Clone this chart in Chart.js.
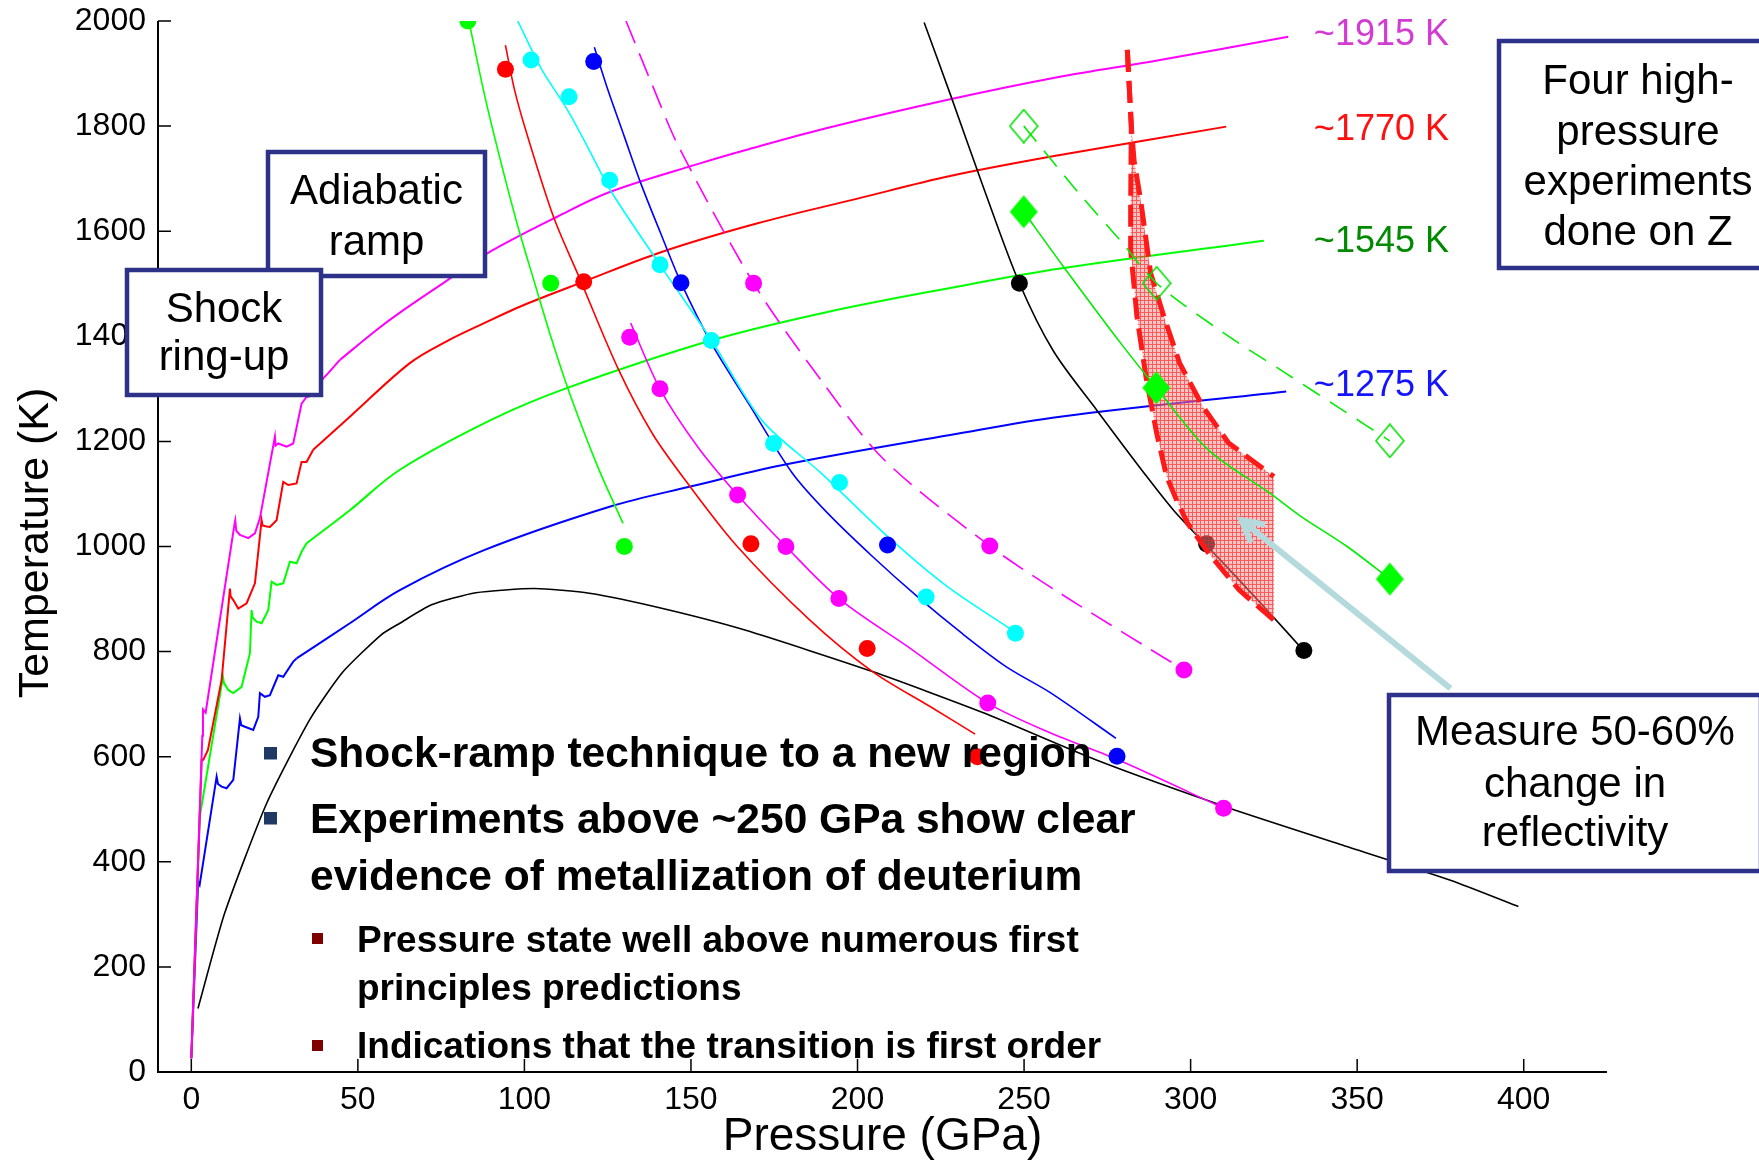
<!DOCTYPE html>
<html><head><meta charset="utf-8">
<script src="https://cdn.jsdelivr.net/npm/chart.js@4.4.1/dist/chart.umd.min.js"></script>
<style>html,body{margin:0;padding:0;background:#fff;overflow:hidden}</style>
</head><body>
<canvas id="c" width="1759" height="1161" style="display:block;width:1759px;height:1161px"></canvas>
<script>
const FONT = '"Liberation Sans", Arial, Helvetica, sans-serif';

// ---- tick labels ----
const xTicks = [0, 50, 100, 150, 200, 250, 300, 350, 400];
const yTicks = [0, 200, 400, 600, 800, 1000, 1200, 1400, 1600, 1800, 2000];

// ---- adiabats (pressure GPa, temperature K), incl. shock ring-up ----
const adiabat1915 = [[0,26],[3.3,640],[3.5,690],[4.3,684],[13.0,1044],[13.2,1050],[13.5,1030],[14.6,1022],[17.1,1016],[19.1,1025],[20.6,1054],[25.1,1209],[25.3,1192],[26.1,1196],[28.6,1190],[30.6,1196],[33.1,1272],[34.5,1284],[36.6,1288],[39.6,1320],[41.1,1330],[44.6,1355],[55.6,1412],[62.6,1445],[76.5,1505],[88.6,1557],[110,1628],[125.8,1675],[152.7,1729],[166.2,1754],[190,1795],[227.8,1851],[260,1893],[290,1925],[329.3,1970]];
const adiabat1770 = [[0,26],[3.1,594],[3.6,594],[5,613],[9.1,746],[11.6,920],[11.8,905],[12.6,898],[14.1,882],[16.6,892],[19.1,930],[21.1,1050],[21.4,1040],[22.6,1038],[23.6,1037],[25.6,1050],[27.6,1123],[29.1,1117],[31.6,1120],[33.1,1161],[34.6,1161],[36.6,1184],[47.6,1247],[65.6,1349],[76.5,1390],[87.9,1425],[100,1460],[117.8,1504],[141,1560],[170,1615],[200,1662],[227.8,1705],[260.8,1745],[310.7,1799]];
const adiabat1545 = [[0,26],[2.55,486],[9.5,752],[9.8,740],[11.1,727],[12.6,721],[15.1,733],[17.6,797],[18.1,879],[18.4,865],[19.6,857],[21.1,854],[23.1,879],[24.1,933],[25.6,927],[27.6,930],[29.6,971],[31.6,968],[33.1,990],[34.6,1006],[47.6,1069],[62.6,1146],[90,1241],[112.5,1301],[156,1392],[190,1445],[227.8,1492],[260.8,1529],[322,1582]];
const adiabat1275 = [[0,26],[2.05,362],[2.5,356],[7.6,562],[8.0,548],[9.1,543],[10.6,540],[12.6,556],[14.6,673],[15.0,660],[16.1,657],[18.6,651],[20.1,676],[20.6,721],[22.1,714],[23.6,717],[26.1,755],[27.6,752],[30.6,781],[31.6,787],[47.6,854],[62.6,917],[87.9,993],[125.8,1076],[149.8,1114],[177.6,1155],[227.8,1212],[260.8,1247],[328.7,1295]];
const lowerBlack = [[2,121],[10,302],[22.6,511],[35.6,671],[45.6,762],[57,832],[62.6,854],[72.1,889],[85.4,912],[103,920],[119.5,911],[141.5,882],[166.2,841],[204.5,762],[238,683],[271.5,594],[311.7,502],[345,433],[378,365],[398.4,315]];

// ---- descending curves (lines) ----
const greenDesc = [[83.5,1995],[88,1860],[93,1730],[98,1610],[103.1,1501],[108,1398],[113.2,1298],[122,1152],[129.6,1044]];
const redDesc = [[94.3,1954],[97,1870],[100.7,1786],[108.7,1628],[116.8,1507],[128.3,1336],[138.4,1215],[148.2,1127],[163.5,1003],[185.7,860],[204.5,762],[221.9,695],[235.3,643]];
const cyanDesc = [[98,2000],[105,1910],[113,1830],[119.5,1754],[125.8,1678],[140.7,1536],[156,1394],[171.3,1240],[189,1140],[208,1025],[226.9,924],[247.1,838]];
const blueDesc = [[121,1950],[125,1870],[130,1780],[135,1690],[140.9,1596],[147,1502],[156.1,1387],[167.5,1270],[180.4,1140],[191.1,1063],[204.5,981],[217.9,905],[231.3,835],[244.7,771],[258.1,721],[277.6,635]];
const magentaDesc = [[131.9,1425],[140.7,1300],[152,1190],[164,1098],[178.5,1000],[194.4,901],[215.2,809],[239.1,702],[258,645],[278.2,594],[309.9,502]];
const magentaDashDesc = [[130.5,2000],[138.2,1881],[146.3,1761],[168.8,1501],[189,1317],[208,1165],[239.7,1001],[260.8,911],[298,765]];
const blackDesc = [[220,1997],[228,1858],[238,1680],[248.6,1501],[258.8,1372],[272,1258],[286,1140],[295,1068],[304.8,1002],[314.6,936],[323.8,873],[333.9,802]];
const greenSolidZ = [[249.9,1637],[261.9,1532],[279,1387],[289.7,1302],[305.3,1184],[323.9,1101],[333.2,1057],[347,1000],[359.8,938]];
const greenDashZ = [[249.9,1800],[266.5,1672],[278.8,1583],[289.8,1501],[310,1406],[328.5,1330],[345.5,1260],[359.8,1201]];

// ---- dots ----
const greenDots = [[83,2000],[107.9,1501],[130,1000]];
const redDots = [[94.3,1908],[117.8,1504],[168,1005],[202.9,806],[236,600]];
const cyanDots = [[102,1926],[113.4,1856],[125.6,1697],[140.7,1536],[156.1,1392],[174.8,1196],[194.6,1122],[220.6,904],[247.4,835]];
const blueDots = [[120.8,1923],[147,1502],[209,1003],[277.9,601]];
const magentaDots = [[131.6,1398],[140.7,1300],[164,1098],[178.5,1000],[194.4,901],[239.1,702],[309.9,502]];
const magentaDashDots = [[168.8,1501],[239.7,1001],[298,765]];
const blackDots = [[248.6,1501],[304.8,1005],[334,802]];
const zFilled = [[249.9,1637],[289.7,1302],[359.8,938]];
const zOpen = [[249.9,1800],[289.8,1501],[359.8,1201]];

// ---- shaded reflectivity-change region ----
const regionLeft = [[281,1945],[282.2,1800],[282,1650],[282,1564],[283.9,1437],[286.6,1323],[289.8,1216],[292.8,1133],[296,1085],[299,1045],[305.3,988],[314.6,917],[325,860]];
const regionRight = [[281,1945],[282.2,1800],[283,1735],[285,1659],[288,1520],[292,1437],[296.7,1349],[303.7,1266],[311.4,1197],[325,1133]];

// ---- arrow (tail, tip) ----
const arrowTail = [378, 730];
const arrowTip = [315.3, 1050];

// ---- labels ----
const adiabatLabels = ['~1915 K', '~1770 K', '~1545 K', '~1275 K'];
const adiabatLabelColors = ['#d23cd2', '#ff1010', '#008a00', '#1414ff'];
const adiabatLabelT = [1954, 1774, 1561, 1286];
const adiabatLabelP = 337;

const toXY = a => a.map(([x, y]) => ({x, y}));
const splitAt = (a, p0) => [a.filter(d => d[0] <= p0), a.filter(d => d[0] >= p0)];

function line(data, color, width, opts = {}) {
  return Object.assign({
    data: toXY(data), showLine: true, borderColor: color, backgroundColor: color,
    borderWidth: width, pointRadius: 0, pointHoverRadius: 0, fill: false, tension: 0,
    order: 40
  }, opts);
}
function dots(data, color, opts = {}) {
  return Object.assign({
    data: toXY(data), showLine: false, pointRadius: 8.5, pointHoverRadius: 8.5,
    pointBackgroundColor: color, pointBorderWidth: 0, pointBorderColor: color,
    backgroundColor: color, borderColor: color, order: 30
  }, opts);
}
function diamond(filled) {
  const c = document.createElement('canvas');
  c.width = 30; c.height = 35;
  const g = c.getContext('2d');
  g.beginPath(); g.moveTo(15, 1); g.lineTo(29, 17.5); g.lineTo(15, 34); g.lineTo(1, 17.5); g.closePath();
  if (filled) { g.fillStyle = '#00ff00'; g.fill(); }
  else { g.strokeStyle = '#00e000'; g.lineWidth = 1.6; g.stroke(); }
  return c;
}

const datasets = [];
[[adiabat1915, '#ff00ff', 44.6], [adiabat1770, '#ff0000', 36.6], [adiabat1545, '#00ff00', 34.6], [adiabat1275, '#0000ff', 31.6]].forEach(([a, col, p0]) => {
  const [ring, smooth] = splitAt(a, p0);
  datasets.push(line(ring, col, 2, {order: 50}));
  datasets.push(line(smooth, col, 2, {order: 50, tension: 0.35}));
});
datasets.push(line(lowerBlack, '#000', 1.6, {order: 50, tension: 0.2}));
datasets.push(line(greenDesc, '#00ff00', 1.6, {tension: 0.3}));
datasets.push(line(redDesc, '#ff0000', 1.6, {tension: 0.3}));
datasets.push(line(cyanDesc, '#00ffff', 1.6, {tension: 0.3}));
datasets.push(line(blueDesc, '#0000ff', 1.6, {tension: 0.3}));
datasets.push(line(magentaDesc, '#ff00ff', 1.6, {tension: 0.3}));
datasets.push(line(magentaDashDesc, '#ff00ff', 1.6, {tension: 0.3, borderDash: [24, 11]}));
datasets.push(line(blackDesc, '#000', 1.6, {tension: 0.3, order: 35}));
datasets.push(dots(greenDots, '#00ff00'));
datasets.push(dots(redDots, '#ff0000'));
datasets.push(dots(cyanDots, '#00ffff'));
datasets.push(dots(blueDots, '#0000ff'));
datasets.push(dots(magentaDots, '#ff00ff'));
datasets.push(dots(magentaDashDots, '#ff00ff'));
datasets.push(dots(blackDots, '#000000'));
datasets.push(line(regionRight, '#ff1a1a', 5, {order: 11, borderDash: [22, 9], id: 'regionRight'}));
datasets.push(line(regionLeft, '#ff1a1a', 5, {order: 10, borderDash: [22, 9], id: 'regionLeft'}));
datasets.push(line(greenSolidZ, '#00ee00', 1.6, {order: 5, tension: 0.3}));
datasets.push(line(greenDashZ, '#00ee00', 1.6, {order: 5, tension: 0.3, borderDash: [20, 12]}));
datasets.push(dots(zFilled, '#00ff00', {order: 4, pointStyle: diamond(true)}));
datasets.push(dots(zOpen, '#00ff00', {order: 4, pointStyle: diamond(false)}));

// hatch pattern
const pat = document.createElement('canvas');
pat.width = 4; pat.height = 4;
const pg = pat.getContext('2d');
pg.fillStyle = 'rgba(255,140,140,0.5)'; pg.fillRect(0, 0, 4, 4);
pg.fillStyle = 'rgba(240,40,40,0.65)'; pg.fillRect(0, 0, 4, 1); pg.fillRect(0, 1, 1, 3);

const regionPlugin = {
  id: 'region',
  beforeDatasetDraw(chart, args) {
    const ds = chart.data.datasets[args.index];
    if (ds.id !== 'regionRight') return;
    const {ctx, scales: {x, y}} = chart;
    const poly = regionLeft.concat(regionRight.slice().reverse());
    ctx.save();
    ctx.beginPath();
    poly.forEach(([p, t], i) => {
      const px = x.getPixelForValue(p), py = y.getPixelForValue(t);
      if (i === 0) ctx.moveTo(px, py); else ctx.lineTo(px, py);
    });
    ctx.closePath();
    ctx.fillStyle = ctx.createPattern(pat, 'repeat');
    ctx.fill();
    ctx.restore();
  }
};

const overlayPlugin = {
  id: 'overlay',
  afterDatasetsDraw(chart) {
    const {ctx, scales: {x, y}} = chart;
    const tx = x.getPixelForValue(arrowTip[0]), ty = y.getPixelForValue(arrowTip[1]);
    const sx = x.getPixelForValue(arrowTail[0]), sy = y.getPixelForValue(arrowTail[1]);
    const ang = Math.atan2(sy - ty, sx - tx);
    ctx.save();
    ctx.strokeStyle = '#b4dade';
    ctx.lineWidth = 6;
    ctx.lineCap = 'butt';
    ctx.beginPath(); ctx.moveTo(sx, sy); ctx.lineTo(tx + 3 * Math.cos(ang), ty + 3 * Math.sin(ang)); ctx.stroke();
    ctx.beginPath();
    ctx.moveTo(tx + 24 * Math.cos(ang - 0.5), ty + 24 * Math.sin(ang - 0.5));
    ctx.lineTo(tx, ty);
    ctx.lineTo(tx + 24 * Math.cos(ang + 0.5), ty + 24 * Math.sin(ang + 0.5));
    ctx.stroke();
    ctx.restore();
  },
  afterDraw(chart) {
    const {ctx, chartArea: a, scales: {x, y}} = chart;
    ctx.save();
    ctx.strokeStyle = '#000';
    ctx.lineWidth = 2;
    ctx.beginPath();
    ctx.moveTo(a.left, y.getPixelForValue(2000)); ctx.lineTo(a.left, a.bottom); ctx.lineTo(a.right, a.bottom);
    ctx.stroke();
    ctx.lineWidth = 1.5;
    ctx.beginPath();
    xTicks.forEach(v => { const px = x.getPixelForValue(v); ctx.moveTo(px, a.bottom); ctx.lineTo(px, a.bottom - 13); });
    yTicks.forEach(v => { const py = y.getPixelForValue(v); ctx.moveTo(a.left, py); ctx.lineTo(a.left + 13, py); });
    ctx.stroke();

    ctx.fillStyle = '#000';
    ctx.font = '46px ' + FONT;
    ctx.textAlign = 'center'; ctx.textBaseline = 'alphabetic';
    ctx.fillText('Pressure (GPa)', (a.left + a.right) / 2, 1150);
    ctx.save();
    ctx.translate(48, 543); ctx.rotate(-Math.PI / 2);
    ctx.font = '43px ' + FONT;
    ctx.fillText('Temperature (K)', 0, 0);
    ctx.restore();

    ctx.font = '36px ' + FONT;
    ctx.textAlign = 'left';
    adiabatLabels.forEach((t, i) => {
      ctx.fillStyle = adiabatLabelColors[i];
      ctx.fillText(t, x.getPixelForValue(adiabatLabelP), y.getPixelForValue(adiabatLabelT[i]));
    });

    const box = (x1, y1, x2, y2, lines, cx, bases) => {
      ctx.fillStyle = '#fff';
      ctx.fillRect(x1, y1, x2 - x1, y2 - y1);
      ctx.strokeStyle = '#2e3188';
      ctx.lineWidth = 4.5;
      ctx.strokeRect(x1, y1, x2 - x1, y2 - y1);
      ctx.fillStyle = '#000';
      ctx.font = '42px ' + FONT;
      ctx.textAlign = 'center';
      lines.forEach((t, i) => ctx.fillText(t, cx, bases[i]));
    };
    box(268, 152, 485, 276, ['Adiabatic', 'ramp'], 376.5, [203.5, 255]);
    box(127, 270, 321, 395, ['Shock', 'ring-up'], 224, [321.5, 370]);
    box(1499, 41, 1780, 268, ['Four high-', 'pressure', 'experiments', 'done on Z'], 1638, [93.5, 145, 195, 245]);
    box(1389, 695, 1761, 871, ['Measure 50-60%', 'change in', 'reflectivity'], 1575, [745, 796.5, 846]);

    ctx.textAlign = 'left';
    ctx.fillStyle = '#1f3864';
    ctx.fillRect(264, 747, 13, 12.5);
    ctx.fillRect(264, 812, 13, 12.5);
    ctx.fillStyle = '#800000';
    ctx.fillRect(312, 933, 11, 11);
    ctx.fillRect(312, 1040, 11, 11);
    ctx.fillStyle = '#000';
    ctx.font = 'bold 42.5px ' + FONT;
    ctx.fillText('Shock-ramp technique to a new region', 310, 767);
    ctx.fillText('Experiments above ~250 GPa show clear', 310, 833);
    ctx.fillText('evidence of metallization of deuterium', 310, 890);
    ctx.font = 'bold 37px ' + FONT;
    ctx.fillText('Pressure state well above numerous first', 357, 951.5);
    ctx.fillText('principles predictions', 357, 1000);
    ctx.fillText('Indications that the transition is first order', 357, 1058);
    ctx.restore();
  }
};

new Chart(document.getElementById('c'), {
  type: 'scatter',
  data: {datasets},
  plugins: [regionPlugin, overlayPlugin],
  options: {
    responsive: false,
    animation: false,
    events: [],
    layout: {padding: {top: 21, right: 152, left: 0, bottom: 0}, autoPadding: false},
    plugins: {legend: {display: false}, tooltip: {enabled: false}, title: {display: false}},
    scales: {
      x: {
        type: 'linear', min: -10, max: 425,
        afterFit: s => { s.height = 89; s.paddingLeft = 0; s.paddingRight = 0; },
        afterBuildTicks: s => { s.ticks = xTicks.map(v => ({value: v})); },
        grid: {display: false, drawTicks: false},
        border: {display: false},
        ticks: {font: {family: FONT, size: 32}, color: '#000', padding: 9, maxRotation: 0, autoSkip: false, callback: v => String(v)}
      },
      y: {
        type: 'linear', min: 0, max: 2000,
        afterFit: s => { s.width = 158; s.paddingTop = 0; s.paddingBottom = 0; },
        afterBuildTicks: s => { s.ticks = yTicks.map(v => ({value: v})); },
        grid: {display: false, drawTicks: false},
        border: {display: false},
        ticks: {font: {family: FONT, size: 32}, color: '#000', padding: 12, autoSkip: false, callback: v => String(v)}
      }
    }
  }
});
</script>
</body></html>
